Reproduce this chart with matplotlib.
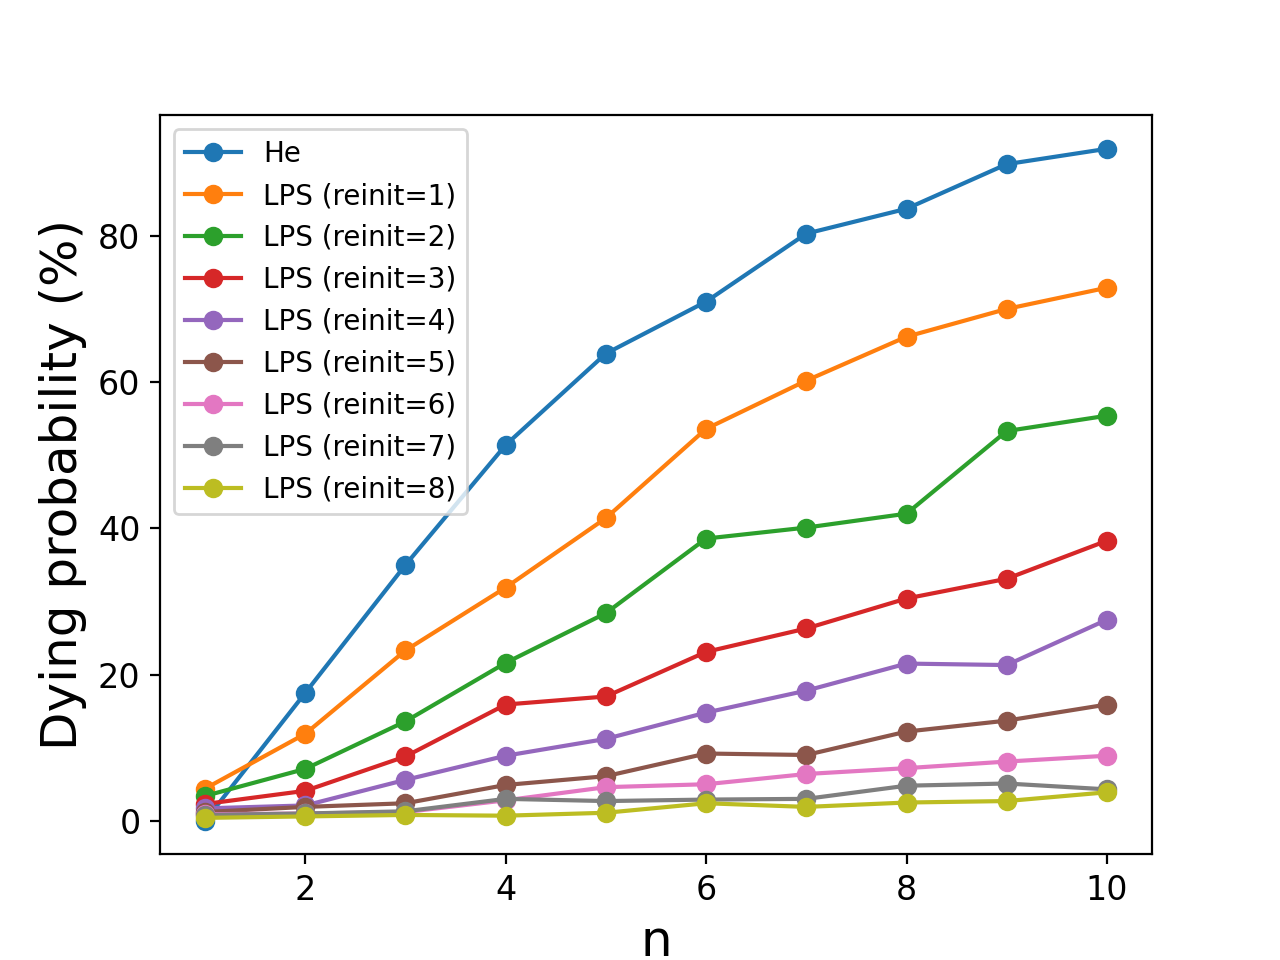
import matplotlib
matplotlib.use("Agg")
import matplotlib.pyplot as plt

n = [1, 2, 3, 4, 5, 6, 7, 8, 9, 10]

he = [0.0, 17.5, 35.0, 51.4, 63.9, 71.0, 80.3, 83.7, 89.8, 91.9]
reinit1 = [4.4, 11.9, 23.3, 31.9, 41.4, 53.6, 60.2, 66.2, 70.0, 72.9]
reinit2 = [3.4, 7.1, 13.6, 21.6, 28.4, 38.6, 40.1, 42.0, 53.3, 55.4]
reinit3 = [2.3, 4.1, 8.8, 15.9, 17.0, 23.1, 26.3, 30.4, 33.1, 38.3]
reinit4 = [1.7, 2.1, 5.6, 8.9, 11.2, 14.8, 17.8, 21.5, 21.3, 27.5]
reinit5 = [1.2, 1.9, 2.4, 4.9, 6.1, 9.2, 9.0, 12.2, 13.7, 15.9]
reinit6 = [0.9, 1.0, 1.2, 2.8, 4.6, 5.0, 6.4, 7.2, 8.1, 8.9]
reinit7 = [0.8, 1.0, 1.3, 3.0, 2.7, 2.9, 3.0, 4.8, 5.1, 4.3]
reinit8 = [0.4, 0.6, 0.8, 0.7, 1.1, 2.4, 1.9, 2.5, 2.7, 3.9]

series = [he, reinit1, reinit2, reinit3, reinit4, reinit5, reinit6, reinit7, reinit8]
labels = ["He"] + ["LPS (reinit=%d)" % i for i in range(1, 9)]

fig = plt.figure(figsize=(6.4, 4.8), dpi=200)
for vals, lab in zip(series, labels):
    plt.plot(n, vals, marker="o", label=lab)
plt.xlabel("n", fontsize=18)
plt.ylabel("Dying probability (%)", fontsize=18)
plt.xticks(fontsize=12)
plt.yticks(fontsize=12)
plt.legend(loc="upper left")
plt.savefig("out.png")
